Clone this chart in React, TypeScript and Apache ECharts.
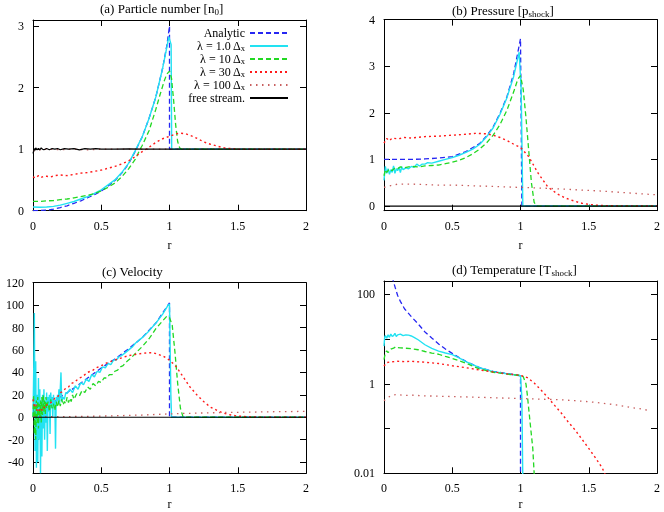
import React, { useEffect, useRef } from 'react';
import * as echarts from 'echarts';

type P = [number, number][];

// ---------- legend / series names ----------
const seriesNames = ['Analytic', 'lam1', 'lam10', 'lam30', 'lam100', 'free'];
const legendLabels = ['Analytic', 'λ = 1.0 Δ{s|x}', 'λ = 10 Δ{s|x}', 'λ = 30 Δ{s|x}', 'λ = 100 Δ{s|x}', 'free stream.'];

// ---------- tick values ----------
const xTicks = [0, 0.5, 1, 1.5, 2];
const nTicks = [0, 1, 2, 3];
const pTicks = [0, 1, 2, 3, 4];
const vTicks = [-40, -20, 0, 20, 40, 60, 80, 100, 120];
const tTicks = [0.01, 0.1, 1, 10, 100];
const tLabels = [0.01, 1, 100];

// ---------- (a) particle number ----------
const nAnalytic: P = [[0,0],[0.05,0.003],[0.1,0.01],[0.15,0.025],[0.2,0.05],[0.25,0.08],[0.3,0.12],[0.35,0.16],[0.4,0.21],[0.45,0.26],[0.5,0.32],[0.55,0.4],[0.6,0.49],[0.65,0.61],[0.7,0.76],[0.75,0.97],[0.8,1.2],[0.85,1.5],[0.9,1.85],[0.95,2.32],[0.98,2.68],[1.0,3.0],[1.0,1.0],[2,1.0]];
const nLam1: P = [[0,0.06],[0.05,0.055],[0.1,0.06],[0.15,0.07],[0.2,0.09],[0.25,0.12],[0.3,0.15],[0.35,0.19],[0.4,0.23],[0.45,0.28],[0.5,0.34],[0.55,0.42],[0.6,0.5],[0.65,0.62],[0.7,0.77],[0.75,0.98],[0.8,1.2],[0.85,1.5],[0.9,1.85],[0.95,2.32],[0.98,2.65],[0.995,2.83],[1.012,2.7],[1.016,1.0],[1.1,1.0],[2,1.0]];
const nLam10: P = [[0,0.15],[0.05,0.15],[0.1,0.16],[0.15,0.165],[0.2,0.18],[0.25,0.19],[0.3,0.21],[0.35,0.23],[0.4,0.25],[0.45,0.28],[0.5,0.32],[0.55,0.38],[0.6,0.45],[0.65,0.55],[0.7,0.68],[0.75,0.84],[0.785,1.0],[0.8,1.06],[0.85,1.3],[0.9,1.65],[0.93,1.88],[0.96,2.1],[0.98,2.22],[1.0,2.27],[1.015,2.15],[1.03,1.8],[1.045,1.4],[1.06,1.12],[1.075,1.02],[1.09,1.0],[2,1.0]];
const nLam30: P = [[0,0.55],[0.02,0.53],[0.04,0.57],[0.06,0.54],[0.08,0.56],[0.1,0.56],[0.13,0.55],[0.16,0.57],[0.2,0.58],[0.25,0.57],[0.3,0.59],[0.35,0.61],[0.4,0.62],[0.45,0.64],[0.5,0.66],[0.55,0.69],[0.6,0.72],[0.65,0.76],[0.7,0.81],[0.75,0.88],[0.8,0.96],[0.85,1.03],[0.9,1.11],[0.95,1.17],[1.0,1.21],[1.05,1.25],[1.08,1.26],[1.12,1.25],[1.18,1.2],[1.25,1.12],[1.3,1.08],[1.35,1.05],[1.4,1.02],[1.45,1.01],[1.5,1.0],[2,1.0]];
const nLam100: P = [[0,0.97],[0.05,0.99],[0.1,1.0],[0.2,0.99],[0.3,1.0],[0.4,0.99],[0.5,1.0],[0.7,1.0],[1.0,1.0],[1.5,1.0],[2,1.0]];
const nFree: P = [[0,0.93],[0.005,0.97],[0.01,1.01],[0.015,0.98],[0.02,1.02],[0.03,0.99],[0.04,1.01],[0.05,0.99],[0.06,1.02],[0.07,1.0],[0.08,0.99],[0.1,1.01],[0.12,0.99],[0.14,1.01],[0.16,1.0],[0.18,1.01],[0.2,0.99],[0.23,1.01],[0.26,1.0],[0.3,1.01],[0.34,0.99],[0.38,1.01],[0.42,1.0],[0.46,1.01],[0.5,1.0],[0.6,1.0],[0.7,1.005],[0.8,1.0],[1.0,1.0],[2,1.0]];

// ---------- (b) pressure ----------
const pAnalytic: P = [[0,1.0],[0.1,1.0],[0.2,1.0],[0.3,1.01],[0.4,1.03],[0.5,1.06],[0.6,1.17],[0.7,1.34],[0.75,1.5],[0.8,1.7],[0.85,1.99],[0.9,2.34],[0.95,2.84],[1.0,3.59],[1.01,0],[2,0]];
const pLam1: P = [[0,0.55],[0.01,0.85],[0.02,0.7],[0.03,0.8],[0.04,0.68],[0.05,0.78],[0.06,0.72],[0.07,0.86],[0.08,0.7],[0.09,0.8],[0.1,0.76],[0.11,0.83],[0.12,0.72],[0.13,0.84],[0.14,0.78],[0.16,0.82],[0.18,0.8],[0.2,0.85],[0.22,0.83],[0.24,0.9],[0.26,0.86],[0.28,0.9],[0.3,0.9],[0.32,0.93],[0.35,0.92],[0.4,0.96],[0.45,1.0],[0.5,1.04],[0.55,1.09],[0.6,1.15],[0.65,1.22],[0.7,1.32],[0.75,1.48],[0.8,1.68],[0.85,1.97],[0.9,2.32],[0.95,2.78],[0.99,3.3],[1.005,2.5],[1.017,0],[2,0]];
const pLam10: P = [[0,0.65],[0.01,0.78],[0.02,0.72],[0.04,0.8],[0.06,0.76],[0.08,0.82],[0.1,0.8],[0.12,0.84],[0.15,0.82],[0.2,0.85],[0.25,0.84],[0.3,0.86],[0.35,0.87],[0.4,0.88],[0.45,0.91],[0.5,0.94],[0.55,0.98],[0.6,1.04],[0.65,1.12],[0.7,1.22],[0.75,1.35],[0.8,1.52],[0.85,1.75],[0.9,2.05],[0.95,2.45],[0.98,2.72],[1.0,2.8],[1.02,2.5],[1.04,1.9],[1.06,1.2],[1.08,0.5],[1.1,0.08],[1.12,0],[2,0]];
const pLam30: P = [[0,1.35],[0.02,1.45],[0.04,1.4],[0.06,1.46],[0.1,1.44],[0.15,1.47],[0.2,1.46],[0.3,1.49],[0.4,1.5],[0.5,1.52],[0.6,1.54],[0.67,1.56],[0.75,1.55],[0.8,1.52],[0.85,1.47],[0.9,1.41],[0.96,1.31],[1.0,1.26],[1.06,1.06],[1.13,0.7],[1.2,0.41],[1.27,0.26],[1.33,0.17],[1.4,0.1],[1.45,0.06],[1.5,0.035],[1.57,0.015],[1.65,0.005],[2,0]];
const pLam100: P = [[0,0.4],[0.05,0.44],[0.1,0.47],[0.2,0.47],[0.3,0.46],[0.4,0.45],[0.5,0.45],[0.6,0.44],[0.8,0.42],[1.0,0.4],[1.2,0.38],[1.4,0.35],[1.6,0.32],[1.8,0.28],[2.0,0.24]];
const pFree: P = [[0,0],[2,0]];

// ---------- (c) velocity ----------
const vAnalytic: P = [[0,0],[0.1,9],[0.2,18],[0.3,26],[0.4,35],[0.5,44],[0.6,52],[0.7,61],[0.8,71],[0.9,84],[1.0,102],[1.0,0],[2,0]];
const vLam1: P = [[0,0],[0.005,40],[0.01,93],[0.015,-30],[0.02,50],[0.025,-45],[0.03,20],[0.035,-40],[0.04,35],[0.045,-20],[0.05,25],[0.055,-50],[0.06,15],[0.065,-35],[0.07,20],[0.075,-10],[0.08,25],[0.085,-20],[0.09,15],[0.095,-5],[0.1,22],[0.105,-30],[0.11,18],[0.115,5],[0.12,20],[0.125,-15],[0.13,22],[0.135,8],[0.14,18],[0.145,0],[0.15,20],[0.155,10],[0.16,15],[0.165,-28],[0.17,18],[0.175,12],[0.18,20],[0.185,15],[0.19,25],[0.195,12],[0.205,40],[0.21,14],[0.22,18],[0.23,16],[0.24,22],[0.25,21],[0.27,25],[0.29,22],[0.31,28],[0.33,25],[0.35,31],[0.37,29],[0.39,34],[0.41,32],[0.43,38],[0.45,36],[0.47,41],[0.49,40],[0.51,45],[0.53,44],[0.55,48],[0.57,47],[0.59,51],[0.61,51],[0.63,54],[0.65,55],[0.67,57],[0.69,59],[0.71,61],[0.73,63],[0.75,66],[0.8,71],[0.85,77],[0.9,84],[0.95,92],[0.99,100],[1.0,101],[1.005,60],[1.01,20],[1.015,0],[2,0]];
const vLam10: P = [[0,0],[0.005,20],[0.01,-15],[0.015,10],[0.02,-20],[0.025,15],[0.03,-5],[0.035,18],[0.04,-10],[0.045,12],[0.05,0],[0.055,15],[0.06,-5],[0.065,18],[0.07,2],[0.075,20],[0.08,5],[0.085,15],[0.09,3],[0.095,18],[0.1,8],[0.11,14],[0.12,5],[0.13,16],[0.14,8],[0.15,12],[0.16,6],[0.17,14],[0.18,9],[0.19,15],[0.2,10],[0.21,16],[0.22,11],[0.23,14],[0.24,12],[0.25,18],[0.26,13],[0.27,17],[0.28,14],[0.29,20],[0.3,16],[0.32,21],[0.34,19],[0.36,24],[0.38,22],[0.4,27],[0.42,25],[0.44,30],[0.46,28],[0.48,32],[0.5,31],[0.52,35],[0.54,35],[0.56,38],[0.58,38],[0.6,41],[0.62,42],[0.64,45],[0.66,46],[0.68,49],[0.7,51],[0.72,53],[0.75,57],[0.8,63],[0.85,70],[0.9,79],[0.95,86],[0.98,90],[1.0,89],[1.02,82],[1.04,58],[1.06,30],[1.08,8],[1.1,0],[2,0]];
const vLam30: P = [[0,16],[0.01,10],[0.02,12],[0.03,6],[0.04,8],[0.05,5],[0.06,7],[0.07,6],[0.08,9],[0.09,8],[0.1,11],[0.12,12],[0.14,14],[0.16,17],[0.18,18],[0.2,22],[0.22,23],[0.24,26],[0.26,27],[0.28,30],[0.3,31],[0.32,33],[0.34,35],[0.36,36],[0.38,38],[0.4,40],[0.42,41],[0.44,42],[0.46,44],[0.48,45],[0.5,46],[0.55,49],[0.6,51],[0.65,53],[0.7,55],[0.75,56],[0.8,57],[0.85,57.5],[0.88,57.5],[0.92,56],[0.96,54],[1.0,51],[1.05,45],[1.1,36],[1.15,27],[1.2,20],[1.25,14],[1.3,9],[1.35,6],[1.4,3.5],[1.45,2],[1.5,1],[1.6,0.3],[1.7,0],[2,0]];
const vLam100: P = [[0,0.5],[0.2,0.5],[0.4,0.8],[0.6,1.3],[0.8,2.0],[1.0,3.0],[1.2,3.7],[1.4,4.2],[1.6,4.6],[1.8,5.0],[2.0,5.2]];
const vFree: P = [[0,0],[2,0]];

// ---------- (d) temperature ----------
const tAnalytic: P = [[0.06,250],[0.07,190],[0.08,150],[0.09,118],[0.1,95],[0.12,70],[0.15,48],[0.2,32],[0.25,22],[0.3,14.5],[0.35,10.6],[0.4,7.8],[0.45,6.0],[0.5,4.8],[0.55,3.9],[0.6,3.2],[0.7,2.3],[0.8,1.9],[0.9,1.7],[1.0,1.52],[1.0,0.0001]];
const tLam1: P = [[0,7],[0.005,11],[0.01,12],[0.02,10.5],[0.03,12.5],[0.04,11],[0.05,13],[0.06,11.5],[0.07,12],[0.08,13.5],[0.09,11.5],[0.1,12.5],[0.12,13],[0.14,12],[0.16,12.5],[0.18,12.3],[0.2,11.8],[0.22,11],[0.25,9.7],[0.3,7.5],[0.35,6.2],[0.4,5.4],[0.45,4.9],[0.5,4.5],[0.55,3.8],[0.6,3.15],[0.7,2.3],[0.8,1.88],[0.9,1.68],[0.95,1.6],[1.0,1.52],[1.01,0.5],[1.02,0.001]];
const tLam10: P = [[0,3.5],[0.01,5],[0.02,5.5],[0.03,5],[0.05,6],[0.07,6.3],[0.09,6.8],[0.1,6.5],[0.12,6.4],[0.15,6.3],[0.2,6.1],[0.25,5.8],[0.3,5.3],[0.35,4.9],[0.4,4.6],[0.45,4.1],[0.5,3.7],[0.55,3.3],[0.6,2.9],[0.7,2.15],[0.8,1.82],[0.9,1.65],[1.0,1.55],[1.02,1.45],[1.04,1.0],[1.05,0.57],[1.07,0.14],[1.09,0.036],[1.1,0.01],[1.11,0.003]];
const tLam30: P = [[0,2.5],[0.02,3.0],[0.05,3.1],[0.1,3.2],[0.15,3.15],[0.2,3.2],[0.3,3.05],[0.4,2.85],[0.5,2.55],[0.6,2.3],[0.7,2.05],[0.8,1.85],[0.9,1.68],[1.0,1.55],[1.05,1.38],[1.1,1.05],[1.15,0.73],[1.2,0.5],[1.25,0.33],[1.3,0.22],[1.35,0.14],[1.4,0.093],[1.45,0.058],[1.5,0.036],[1.55,0.022],[1.6,0.013],[1.63,0.008]];
const tLam100: P = [[0,0.42],[0.03,0.5],[0.06,0.56],[0.1,0.58],[0.15,0.55],[0.2,0.56],[0.3,0.54],[0.4,0.53],[0.5,0.52],[0.6,0.51],[0.7,0.5],[0.8,0.49],[0.9,0.48],[1.0,0.47],[1.1,0.46],[1.2,0.45],[1.3,0.44],[1.4,0.42],[1.5,0.4],[1.6,0.37],[1.7,0.34],[1.8,0.3],[1.9,0.27],[1.95,0.25]];

const FONT = 'Liberation Serif';
const colors = ['#2626f2', '#22e2f2', '#22d822', '#ff1a1a', '#c86060', '#000000'];
const dashes: any[] = [[5, 3], 'solid', [5, 3], [2, 3], [1.5, 4.5], 'solid'];
const widths = [1.3, 1.4, 1.3, 1.4, 1.3, 1.2];

const rich = {
  m: { fontFamily: FONT, fontSize: 13, fontWeight: 'normal', color: '#000', lineHeight: 16 },
  s: { fontFamily: FONT, fontSize: 9, fontWeight: 'normal', color: '#000', lineHeight: 8, verticalAlign: 'bottom' },
};
const legendRich = {
  s: { fontFamily: FONT, fontSize: 8.5, color: '#000', lineHeight: 6, verticalAlign: 'bottom' },
};

export default function App() {
  const ref = useRef<HTMLDivElement>(null);
  useEffect(() => {
    if (!ref.current) return;
    const chart = echarts.init(ref.current, undefined, { renderer: 'svg' });

    const grids = [
      { left: 33, top: 20, width: 273, height: 190.7 },
      { left: 384, top: 19.6, width: 273, height: 191.1 },
      { left: 33, top: 282.7, width: 273, height: 190.6 },
      { left: 384, top: 281, width: 273, height: 192.3 },
    ];
    const yDefs = [
      { type: 'value', min: 0, max: 3.1, ticks: nTicks, labels: nTicks },
      { type: 'value', min: -0.1, max: 4, ticks: pTicks, labels: pTicks },
      { type: 'value', min: -50, max: 120, ticks: vTicks, labels: vTicks },
      { type: 'log', min: 0.01, max: 200, ticks: tTicks, labels: tLabels },
    ];
    const nameGaps = [28, 28, 25, 25];
    const panels = [
      [nAnalytic, nLam1, nLam10, nLam30, nLam100, nFree],
      [pAnalytic, pLam1, pLam10, pLam30, pLam100, pFree],
      [vAnalytic, vLam1, vLam10, vLam30, vLam100, vFree],
      [tAnalytic, tLam1, tLam10, tLam30, tLam100],
    ];

    const axisLine = { show: true, onZero: false, lineStyle: { color: '#000', width: 1 } };
    const xAxis: any[] = [];
    const yAxis: any[] = [];
    grids.forEach((g, i) => {
      xAxis.push({
        gridIndex: i, type: 'value', min: 0, max: 2, position: 'bottom',
        name: 'r', nameLocation: 'middle', nameGap: nameGaps[i],
        nameTextStyle: { fontFamily: FONT, fontSize: 12, color: '#000' },
        axisLine, splitLine: { show: false },
        axisTick: { inside: true, length: 6, customValues: xTicks, lineStyle: { color: '#000' } },
        axisLabel: { customValues: xTicks, margin: 9, fontFamily: FONT, fontSize: 12, color: '#000' },
      });
      xAxis.push({
        gridIndex: i, type: 'value', min: 0, max: 2, position: 'top',
        axisLine, splitLine: { show: false },
        axisTick: { inside: true, length: 6, customValues: xTicks, lineStyle: { color: '#000' } },
        axisLabel: { show: false },
      });
      const d = yDefs[i];
      yAxis.push({
        gridIndex: i, type: d.type, min: d.min, max: d.max, position: 'left',
        axisLine, splitLine: { show: false },
        axisTick: { inside: true, length: 6, customValues: d.ticks, lineStyle: { color: '#000' } },
        axisLabel: { customValues: d.labels, margin: 9, fontFamily: FONT, fontSize: 12, color: '#000',
          formatter: (v: number) => String(v) },
      });
      yAxis.push({
        gridIndex: i, type: d.type, min: d.min, max: d.max, position: 'right',
        axisLine, splitLine: { show: false },
        axisTick: { inside: true, length: 6, customValues: d.ticks, lineStyle: { color: '#000' } },
        axisLabel: { show: false },
      });
    });

    const series: any[] = [];
    panels.forEach((list, i) => {
      list.forEach((data, k) => {
        series.push({
          type: 'line', name: seriesNames[k], data,
          xAxisIndex: i * 2, yAxisIndex: i * 2,
          showSymbol: false, symbol: 'none', clip: true,
          lineStyle: { color: colors[k], width: widths[k], type: dashes[k] },
          itemStyle: { color: colors[k] },
          silent: true,
        });
      });
    });

    const titles = [
      { text: '{m|(a) Particle number [n}{s|0}{m|]}', left: 100, top: 0 },
      { text: '{m|(b) Pressure [p}{s|shock}{m|]}', left: 452, top: 2 },
      { text: '{m|(c) Velocity}', left: 102, top: 263 },
      { text: '{m|(d) Temperature [T}{s|shock}{m|]}', left: 452, top: 261 },
    ].map((t) => ({ ...t, padding: 0, textStyle: { fontWeight: 'normal', rich } }));

    chart.setOption({
      animation: false,
      textStyle: { fontFamily: FONT },
      title: titles,
      grid: grids,
      xAxis,
      yAxis,
      legend: {
        data: seriesNames,
        orient: 'vertical',
        align: 'right',
        right: 375,
        top: 27,
        padding: 0,
        itemWidth: 38,
        itemHeight: 12,
        itemGap: 1,
        selectedMode: false,
        itemStyle: { opacity: 0 },
        formatter: (name: string) => legendLabels[seriesNames.indexOf(name)],
        textStyle: { fontFamily: FONT, fontSize: 12, color: '#000', lineHeight: 12, rich: legendRich },
      },
      series,
    });
    return () => chart.dispose();
  }, []);
  return <div ref={ref} style={{ position: 'fixed', left: 0, top: 0, width: 664, height: 512 }} />;
}
